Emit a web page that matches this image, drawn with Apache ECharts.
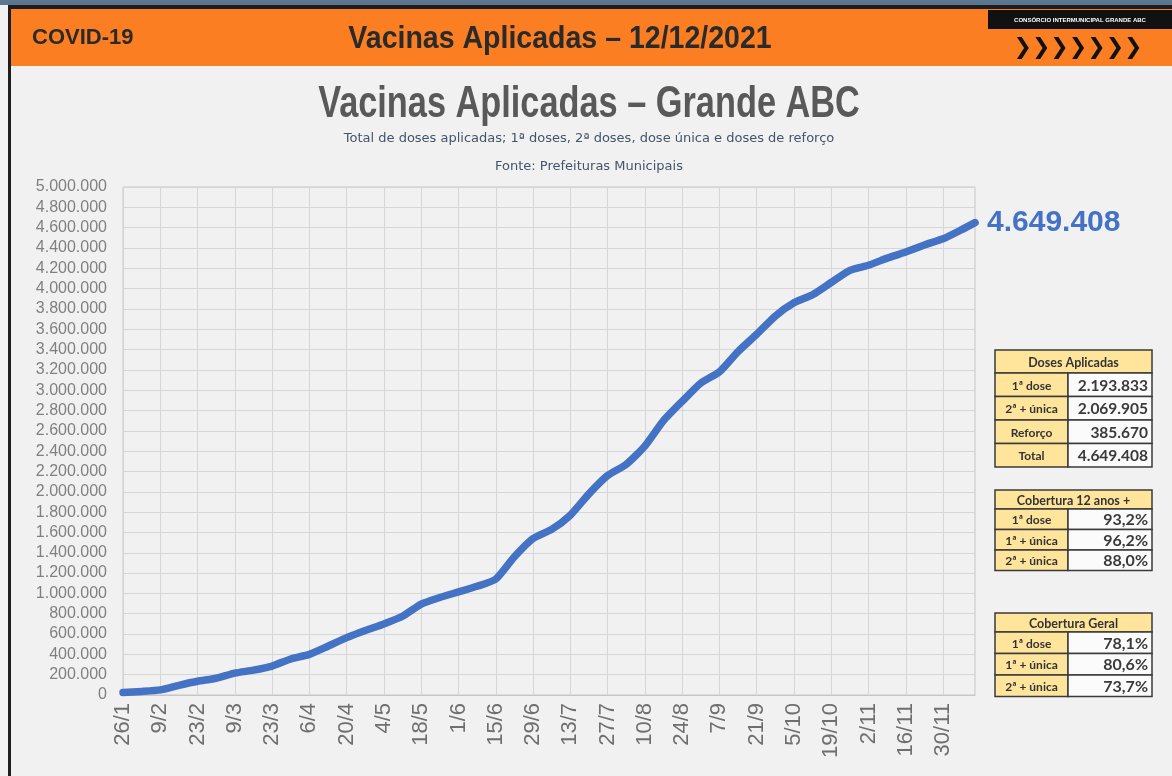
<!DOCTYPE html>
<html>
<head>
<meta charset="utf-8">
<title>Vacinas Aplicadas - Grande ABC</title>
<script src="https://cdn.jsdelivr.net/npm/echarts@6/dist/echarts.min.js"></script>
<style>
html, body { margin: 0; padding: 0; background: #f1f1f1; }
#chart { width: 1172px; height: 776px; }
</style>
</head>
<body>
<div id="chart"></div>
<script>
// leituras semanais do total acumulado de doses
var readDates = ['26/1', '2/2', '9/2', '16/2', '23/2', '2/3', '9/3', '16/3', '23/3', '30/3',
	'6/4', '13/4', '20/4', '27/4', '4/5', '11/5', '18/5', '25/5', '1/6', '8/6',
	'15/6', '22/6', '29/6', '6/7', '13/7', '20/7', '27/7', '3/8', '10/8', '17/8',
	'24/8', '31/8', '7/9', '14/9', '21/9', '28/9', '5/10', '12/10', '19/10', '26/10',
	'2/11', '9/11', '16/11', '23/11', '30/11', '7/12', '12/12'];
var totalDoses = [25000, 35000, 50000, 95000, 135000, 165000, 215000, 245000, 285000, 354000,
	400000, 480000, 565000, 635000, 700000, 775000, 895000, 960000, 1015000, 1070000,
	1140000, 1360000, 1540000, 1630000, 1770000, 1980000, 2160000, 2270000, 2450000, 2700000,
	2890000, 3070000, 3180000, 3380000, 3550000, 3730000, 3860000, 3940000, 4060000, 4180000,
	4230000, 4300000, 4360000, 4430000, 4490000, 4580000, 4649408];

// tabelas da direita
var dosesTitle = 'Doses Aplicadas';
var dosesLabels = ['1ª dose', '2ª + única', 'Reforço', 'Total'];
var dosesValues = ['2.193.833', '2.069.905', '385.670', '4.649.408'];
var cob12Title = 'Cobertura 12 anos +';
var cob12Labels = ['1ª dose', '1ª + única', '2ª + única'];
var cob12Values = ['93,2%', '96,2%', '88,0%'];
var cobGeralTitle = 'Cobertura Geral';
var cobGeralLabels = ['1ª dose', '1ª + única', '2ª + única'];
var cobGeralValues = ['78,1%', '80,6%', '73,7%'];

// um dia por categoria, de 26/1 a 12/12/2021
var days = [];
for (var d = new Date(2021, 0, 26); d <= new Date(2021, 11, 12); d.setDate(d.getDate() + 1)) {
	days.push(d.getDate() + '/' + (d.getMonth() + 1));
}

function fmt(v) {
	return String(Math.round(v)).replace(/\B(?=(\d{3})+(?!\d))/g, '.');
}

function makeTable(x, y, headH, rowH, title, labels, values, valueFont) {
	var w1 = 73, w2 = 84;
	var els = [];
	els.push({ type: 'rect', shape: { x: x, y: y, width: w1 + w2, height: headH },
		style: { fill: '#ffe59c', stroke: '#3a3a3a', lineWidth: 1.5 } });
	els.push({ type: 'text', x: x + (w1 + w2) / 2, y: y + headH / 2 + 1,
		style: { text: title, fill: '#333', font: 'bold 12.5px Lato', align: 'center', verticalAlign: 'middle' } });
	for (var i = 0; i < labels.length; i++) {
		var ry = y + headH + i * rowH;
		els.push({ type: 'rect', shape: { x: x, y: ry, width: w1, height: rowH },
			style: { fill: '#ffe59c', stroke: '#3a3a3a', lineWidth: 1.5 } });
		els.push({ type: 'rect', shape: { x: x + w1, y: ry, width: w2, height: rowH },
			style: { fill: '#fbfbfb', stroke: '#3a3a3a', lineWidth: 1.5 } });
		els.push({ type: 'text', x: x + w1 / 2, y: ry + rowH / 2 + 1,
			style: { text: labels[i], fill: '#333', font: 'bold 12px Lato', align: 'center', verticalAlign: 'middle' } });
		els.push({ type: 'text', x: x + w1 + w2 - 4, y: ry + rowH / 2 + 1,
			style: { text: values[i], fill: '#3a3a3a', font: valueFont, align: 'right', verticalAlign: 'middle' } });
	}
	return els;
}

var chart = echarts.init(document.getElementById('chart'));

var graphics = [
	{ type: 'rect', shape: { x: 0, y: 0, width: 1172, height: 5 }, style: { fill: '#5a7690' } },
	{ type: 'rect', shape: { x: 8, y: 5, width: 1164, height: 4 }, style: { fill: '#1e1e1e' } },
	{ type: 'rect', shape: { x: 8, y: 5, width: 3, height: 771 }, style: { fill: '#1e1e1e' } },
	{ type: 'rect', shape: { x: 11, y: 9, width: 1161, height: 57 }, style: { fill: '#fb7e22' } },
	{ type: 'text', x: 32, y: 38, style: { text: 'COVID-19', fill: '#2a2a2a',
		font: 'bold 22px "Liberation Sans"', align: 'left', verticalAlign: 'middle' } },
	{ type: 'text', x: 560, y: 39, scaleX: 0.92, style: { text: 'Vacinas Aplicadas – 12/12/2021', fill: '#2a2a2a',
		font: 'bold 31px "Liberation Sans"', align: 'center', verticalAlign: 'middle' } },
	{ type: 'rect', shape: { x: 988, y: 10, width: 184, height: 19 }, style: { fill: '#111' } },
	{ type: 'text', x: 1080, y: 20, style: { text: 'CONSÓRCIO INTERMUNICIPAL GRANDE ABC', fill: '#fff',
		font: 'bold 6px "Liberation Sans"', align: 'center', verticalAlign: 'middle' } },
	{ type: 'text', x: 1078, y: 48, style: { text: '❯❯❯❯❯❯❯', fill: '#111',
		font: 'bold 22px "DejaVu Sans"', align: 'center', verticalAlign: 'middle' } },
	{ type: 'text', x: 589, y: 105, scaleX: 0.78, style: { text: 'Vacinas Aplicadas – Grande ABC', fill: '#595959',
		font: 'bold 44px "Liberation Sans"', align: 'center', verticalAlign: 'middle' } },
	{ type: 'text', x: 589, y: 139, style: { text: 'Total de doses aplicadas; 1ª doses, 2ª doses, dose única e doses de reforço',
		fill: '#44546a', font: '13px "DejaVu Sans"', align: 'center', verticalAlign: 'middle' } },
	{ type: 'text', x: 589, y: 167, style: { text: 'Fonte: Prefeituras Municipais',
		fill: '#44546a', font: '13px "DejaVu Sans"', align: 'center', verticalAlign: 'middle' } }
];
graphics = graphics
	.concat(makeTable(995, 350, 23, 23.5, dosesTitle, dosesLabels, dosesValues, 'bold 15.5px Lato'))
	.concat(makeTable(995, 490, 19, 20.5, cob12Title, cob12Labels, cob12Values, 'bold 16px Lato'))
	.concat(makeTable(995, 613, 19, 21.5, cobGeralTitle, cobGeralLabels, cobGeralValues, 'bold 16px Lato'));

var option = {
	backgroundColor: '#f1f1f1',
	animation: false,
	grid: {
		left: 123, right: 197, top: 187, bottom: 81,
		show: true, borderColor: '#c6c6c6', borderWidth: 1
	},
	xAxis: {
		type: 'category',
		data: days,
		boundaryGap: false,
		axisLine: { lineStyle: { color: '#c6c6c6' } },
		axisTick: { show: false },
		axisLabel: { interval: 13, rotate: 90, margin: 8, fontSize: 22,
			color: '#6f6f6f', fontFamily: 'Liberation Sans' },
		splitLine: { show: true, interval: 13, lineStyle: { color: '#d6d6d6' } }
	},
	yAxis: {
		type: 'value',
		min: 0, max: 5000000, interval: 200000,
		axisLine: { show: false },
		axisTick: { show: false },
		axisLabel: { formatter: fmt, margin: 16, fontSize: 16,
			color: '#808080', fontFamily: 'Liberation Sans' },
		splitLine: { lineStyle: { color: '#d6d6d6' } }
	},
	series: [{
		type: 'line',
		data: readDates.map(function (c, i) { return [c, totalDoses[i]]; }),
		showSymbol: false,
		smooth: 0.2,
		lineStyle: { color: '#4472c4', width: 7.5, cap: 'round', join: 'round' },
		endLabel: {
			show: true, distance: 12,
			formatter: function (p) { return fmt(p.value[1]); },
			color: '#4472c4', fontSize: 30, fontWeight: 'bold', fontFamily: 'Liberation Sans'
		}
	}],
	graphic: graphics
};
chart.setOption(option);
</script>
</body>
</html>
